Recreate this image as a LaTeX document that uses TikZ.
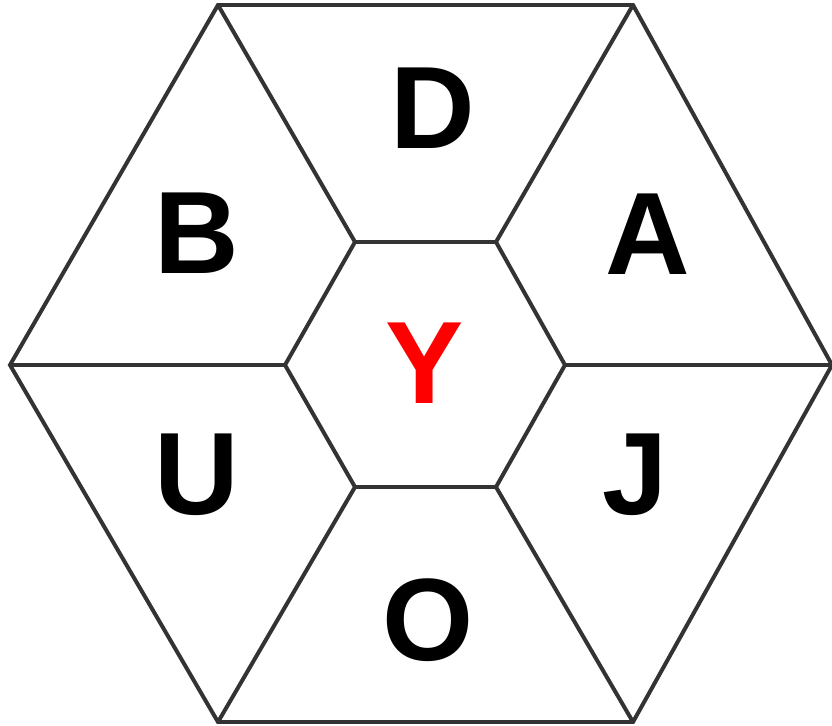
\documentclass[tikz,border=0pt]{standalone}
\usepackage{fontspec}
\setmainfont{Liberation Sans}
\usepackage{xcolor}
\definecolor{edgegray}{HTML}{333333}
\usetikzlibrary{positioning}

\tikzset{
  edge/.style={draw=edgegray, line width=3.4pt, line join=miter},
  letter/.style={inner sep=0pt, font=\fontsize{100}{100}\selectfont\bfseries},
}

\begin{document}
\begin{tikzpicture}[x=0.03cm, y=-0.03cm]

  \useasboundingbox (0,0) rectangle (832,726);

  % outer hexagon
  \coordinate (o1) at (218,5);
  \coordinate (o2) at (633,5);
  \coordinate (o3) at (832,365);
  \coordinate (o4) at (633,722);
  \coordinate (o5) at (218,722);
  \coordinate (o6) at (10,365);

  % inner hexagon
  \coordinate (i1) at (355,242);
  \coordinate (i2) at (496,242);
  \coordinate (i3) at (565,365);
  \coordinate (i4) at (496,487);
  \coordinate (i5) at (355,487);
  \coordinate (i6) at (285,365);

  \draw[edge] (o1) -- (o2) -- (o3) -- (o4) -- (o5) -- (o6) -- cycle;
  \draw[edge] (i1) -- (i2) -- (i3) -- (i4) -- (i5) -- (i6) -- cycle;

  % spokes
  \foreach \k in {1,...,6}
    \draw[edge] (i\k) -- (o\k);

  % letters
  \node[letter] (d) at (433,108) {D};
  \node[letter] (b) at (197,233) {B};
  \node[letter] (a) at (648,234) {A};
  \node[letter] (u) at (197,475) {U};
  \node[letter] (j) at (635,475) {J};
  \node[letter] (o) at (428,620) {O};
  \node[letter, red] (y) at (425,363) {Y};

\end{tikzpicture}
\end{document}
